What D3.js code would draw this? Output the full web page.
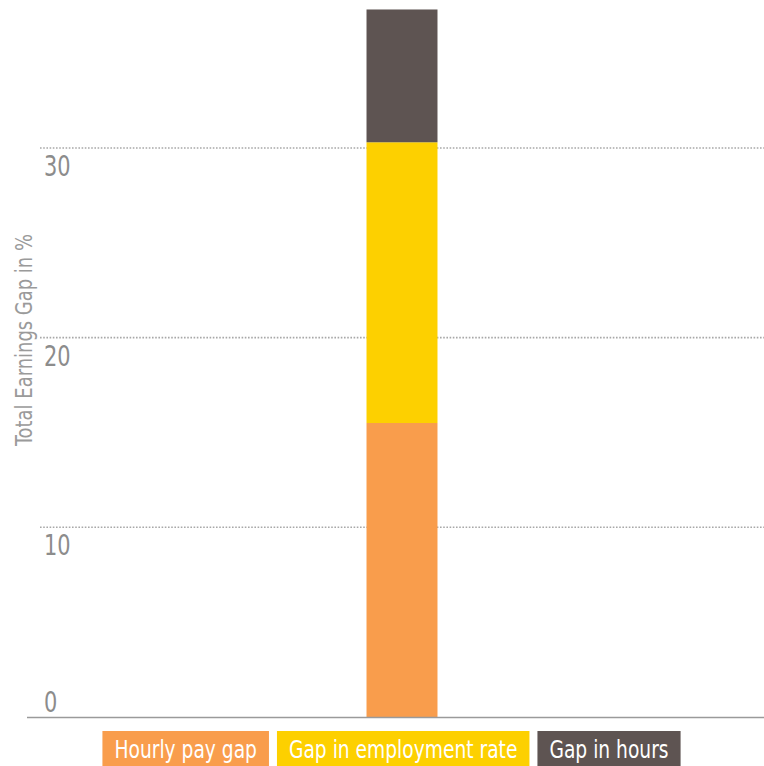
<!DOCTYPE html>
<html>
<head>
<meta charset="utf-8">
<script src="https://cdn.jsdelivr.net/npm/d3@7"></script>
<style>
  html, body { margin: 0; padding: 0; background: #fff; }
  svg { display: block; }
  text { font-family: "Liberation Sans Narrow", "DejaVu Sans Condensed", sans-serif; }
</style>
</head>
<body>
<div id="chart"></div>
<script>
// chart data
const categories = ["Total"];
const seriesNames = ["Hourly pay gap", "Gap in employment rate", "Gap in hours"];
const seriesColors = ["#f99d4c", "#fdd000", "#5e5452"];
const hourlyPayGap = [15.5];
const employmentRateGap = [14.8];
const hoursGap = [7.0];
const yTicks = [0, 10, 20, 30];
const yLabel = "Total Earnings Gap in %";

const width = 764;
const height = 766;
const marginLeft = 40;
const marginRight = 0;
const baseline = 717;
const squeeze = 0.83; // narrow the condensed font a bit more

const svg = d3.select("#chart")
  .append("svg")
  .attr("width", width)
  .attr("height", height)
  .attr("viewBox", [0, 0, width, height]);

// build stacked rows from the series arrays
const rows = categories.map((c, i) => ({
  category: c,
  [seriesNames[0]]: hourlyPayGap[i],
  [seriesNames[1]]: employmentRateGap[i],
  [seriesNames[2]]: hoursGap[i]
}));
const stacked = d3.stack().keys(seriesNames)(rows);

const yScale = d3.scaleLinear([0, 37.8], [baseline, 0]);
const xScale = d3.scaleBand(categories, [marginLeft, width - marginRight])
  .paddingInner(0)
  .paddingOuter(4.6);
const color = d3.scaleOrdinal(seriesNames, seriesColors);

// dotted grid lines
svg.append("g")
  .selectAll("line")
  .data(yTicks.filter(d => d > 0))
  .join("line")
  .attr("x1", marginLeft)
  .attr("x2", width - marginRight)
  .attr("y1", d => yScale(d))
  .attr("y2", d => yScale(d))
  .attr("stroke", "#a8a8a8")
  .attr("stroke-width", 1.6)
  .attr("stroke-dasharray", "1.6,1.6");

// tick labels sit just under each line
svg.append("g")
  .selectAll("text")
  .data(yTicks)
  .join("text")
  .attr("transform", d =>
    `translate(44,${yScale(d) - (d === 0 ? 5 : -28)}) scale(${squeeze},1)`)
  .attr("fill", "#8c8c8c")
  .attr("font-size", 28)
  .text(d => d);

// y axis label
svg.append("text")
  .attr("transform", `translate(32,340) rotate(-90) scale(0.95,1.1)`)
  .attr("text-anchor", "middle")
  .attr("fill", "#9a9a9a")
  .attr("font-size", 21)
  .text(yLabel);

// stacked bars
svg.append("g")
  .selectAll("g")
  .data(stacked)
  .join("g")
  .attr("fill", d => color(d.key))
  .selectAll("rect")
  .data(d => d)
  .join("rect")
  .attr("x", d => xScale(d.data.category))
  .attr("y", d => yScale(d[1]))
  .attr("width", xScale.bandwidth())
  .attr("height", d => yScale(d[0]) - yScale(d[1]));

// baseline
svg.append("line")
  .attr("x1", 27)
  .attr("x2", width)
  .attr("y1", baseline + 0.5)
  .attr("y2", baseline + 0.5)
  .attr("stroke", "#9a9a9a")
  .attr("stroke-width", 1.5);

// legend boxes
const legend = svg.append("g");
const items = legend.selectAll("g")
  .data(seriesNames)
  .join("g");
items.append("rect").attr("fill", d => color(d));
items.append("text")
  .attr("fill", "#fff")
  .attr("font-size", 25)
  .text(d => d);

let x = 0;
const padX = 12;
const gap = 8;
items.each(function () {
  const g = d3.select(this);
  const w = g.select("text").node().getComputedTextLength() * squeeze;
  g.select("rect")
    .attr("x", x)
    .attr("y", 731)
    .attr("width", w + padX * 2)
    .attr("height", 40);
  g.select("text").attr("transform", `translate(${x + padX},758) scale(${squeeze},1)`);
  x += w + padX * 2 + gap;
});
const legendWidth = x - gap;
legend.attr("transform", `translate(${391.5 - legendWidth / 2},0)`);
</script>
</body>
</html>
